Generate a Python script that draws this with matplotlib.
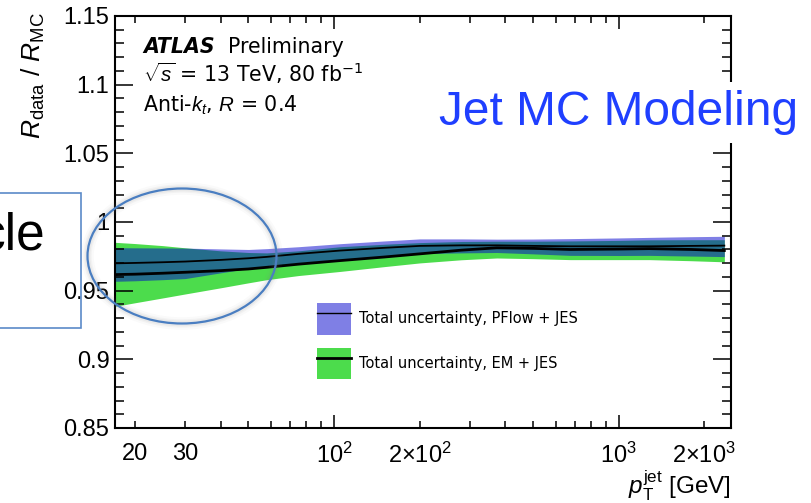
import numpy as np
import matplotlib
matplotlib.use("Agg")
import matplotlib.pyplot as plt
from matplotlib.patches import Ellipse, Rectangle, Patch
from matplotlib.lines import Line2D
from matplotlib.ticker import FixedLocator, FuncFormatter, MultipleLocator, LogLocator

plt.rcParams["font.family"] = ["Liberation Sans", "DejaVu Sans"]
plt.rcParams["mathtext.fontset"] = "custom"
plt.rcParams["mathtext.rm"] = "Liberation Sans"
plt.rcParams["mathtext.it"] = "Liberation Sans:italic"
plt.rcParams["mathtext.bf"] = "Liberation Sans:bold"

# jet pT points [GeV]
pt_jet = [17, 20, 25, 30, 40, 50, 58, 75, 105, 150, 200, 280, 373, 500, 675, 1000, 1280, 1800, 2350]

# PFlow + JES: central value and total uncertainty band
pflow_c = [0.9699, 0.9702, 0.9707, 0.9712, 0.9724, 0.9736, 0.9746, 0.9768, 0.9792, 0.9812,
           0.9826, 0.9830, 0.9830, 0.9826, 0.9823, 0.9823, 0.9823, 0.9826, 0.9828]
pflow_hi = [0.9813, 0.9812, 0.9811, 0.9810, 0.9804, 0.9800, 0.9806, 0.9820, 0.9842, 0.9862,
            0.9877, 0.9877, 0.9875, 0.9876, 0.9879, 0.9884, 0.9888, 0.9893, 0.9896]
pflow_lo = [0.9568, 0.9572, 0.9580, 0.9588, 0.9630, 0.9662, 0.9678, 0.9703, 0.9728, 0.9752,
            0.9770, 0.9775, 0.9778, 0.9768, 0.9757, 0.9756, 0.9757, 0.9752, 0.9748]

# EM + JES: central value and total uncertainty band
em_c = [0.9617, 0.9620, 0.9627, 0.9634, 0.9646, 0.9658, 0.9670, 0.9693, 0.9719, 0.9745,
        0.9768, 0.9795, 0.9812, 0.9808, 0.9800, 0.9803, 0.9806, 0.9800, 0.9792]
em_hi = [0.9852, 0.9843, 0.9828, 0.9812, 0.9790, 0.9778, 0.9775, 0.9790, 0.9820, 0.9838,
         0.9850, 0.9858, 0.9860, 0.9860, 0.9862, 0.9866, 0.9870, 0.9871, 0.9871]
em_lo = [0.9386, 0.9412, 0.9447, 0.9476, 0.9521, 0.9557, 0.9580, 0.9610, 0.9640, 0.9675,
         0.9702, 0.9725, 0.9738, 0.9733, 0.9726, 0.9726, 0.9726, 0.9718, 0.9710]

labeled_xticks = [20, 30, 100, 200, 1000, 2000]
legend_labels = ["Total uncertainty, PFlow + JES", "Total uncertainty, EM + JES"]

green = "#4cdc4c"
blue = (0, 0, 0.8)

W, H = 811, 503
fig = plt.figure(figsize=(W / 100, H / 100), dpi=100)
ax = fig.add_axes([115 / W, 1 - 428 / H, 616 / W, 412 / H])

ax.fill_between(pt_jet, em_lo, em_hi, color=green, lw=0)
ax.plot(pt_jet, em_c, color="k", lw=2.0)
ax.fill_between(pt_jet, pflow_lo, pflow_hi, color=blue, alpha=0.5, lw=0)
ax.plot(pt_jet, pflow_c, color="k", lw=1.3)

ax.set_xscale("log")
ax.set_xlim(17, 2480)
ax.set_ylim(0.85, 1.15)


def fmt_x(v, pos=None):
    if not any(abs(v - t) < 1e-6 * t for t in labeled_xticks):
        return ""
    if v < 100:
        return f"{v:g}"
    e = int(np.floor(np.log10(v) + 1e-9))
    m = int(round(v / 10 ** e))
    if m == 1:
        return rf"$\mathregular{{10^{{{e}}}}}$"
    return rf"$\mathregular{{{m}{{\times}}10^{{{e}}}}}$"


ax.xaxis.set_major_locator(FixedLocator([100, 1000]))
ax.xaxis.set_minor_locator(LogLocator(base=10, subs=range(2, 10)))
ax.xaxis.set_major_formatter(FuncFormatter(fmt_x))
ax.xaxis.set_minor_formatter(FuncFormatter(fmt_x))
ax.yaxis.set_major_locator(MultipleLocator(0.05))
ax.yaxis.set_minor_locator(MultipleLocator(0.01))
ax.yaxis.set_major_formatter(FuncFormatter(lambda v, p: f"{round(v, 2):g}"))

ax.tick_params(axis="both", which="both", direction="in", top=True, right=True, width=1.1)
ax.tick_params(axis="x", which="major", length=9.5, labelsize=17, pad=10.5)
ax.tick_params(axis="x", which="minor", length=5, labelsize=17, pad=10.5)
ax.tick_params(axis="y", which="major", length=13, labelsize=17, pad=4)
ax.tick_params(axis="y", which="minor", length=6.5)
for s in ax.spines.values():
    s.set_linewidth(1.5)

fig.text(33 / W, 1 - 12 / H, r"$R_{\mathrm{data}}$ / $R_{\mathrm{MC}}$", rotation=90,
         ha="center", va="top", fontsize=19)
fig.text(731 / W, 1 - 494 / H, r"$p_{\mathrm{T}}^{\mathrm{jet}}$ [GeV]", ha="right",
         va="baseline", fontsize=17.5)

fig.text(143 / W, 1 - 53 / H, "ATLAS", fontsize=14.8, fontweight="bold", fontstyle="italic",
         family="DejaVu Sans")
fig.text(228 / W, 1 - 53 / H, "Preliminary", fontsize=14.8, family="DejaVu Sans")
fig.text(143 / W, 1 - 82 / H, r"$\sqrt{s}$ = 13 TeV, 80 fb$^{\mathregular{-1}}$", fontsize=14.8,
         family="DejaVu Sans")
fig.text(143 / W, 1 - 112 / H, r"Anti-$k_{t}$, $R$ = 0.4", fontsize=14.8, family="DejaVu Sans")

handles = [(Patch(facecolor=blue, alpha=0.5, lw=0), Line2D([], [], color="k", lw=1.0)),
           (Patch(facecolor=green, lw=0), Line2D([], [], color="k", lw=2.0))]
ax.legend(handles, legend_labels, loc="upper left", bbox_to_anchor=((317 - 115) / 616, (428 - 303) / 412),
          frameon=False, prop={"family": "DejaVu Sans", "size": 10.5}, borderpad=0, borderaxespad=0,
          handlelength=2.35, handleheight=2.95, handletextpad=0.5, labelspacing=0.9)

# slide overlay annotations
for lw, a in [(9, 0.04), (6, 0.06), (4, 0.08)]:
    fig.add_artist(Ellipse((182 / W, 1 - 256 / H), 189 / W, 135 / H, transform=fig.transFigure,
                           fill=False, edgecolor="gray", lw=lw, alpha=a))
fig.add_artist(Ellipse((182 / W, 1 - 256 / H), 189 / W, 135 / H, transform=fig.transFigure,
                       fill=False, edgecolor="#4a7ec1", lw=1.6))
fig.add_artist(Rectangle((-10 / W, 1 - 328 / H), 91 / W, 135 / H, transform=fig.transFigure,
                         fill=False, edgecolor="#5b8ac8", lw=1.2))
fig.text(46 / W, 1 - 250 / H, "cle", ha="right", va="baseline", fontsize=37)
fig.text(439 / W, 1 - 125 / H, "Jet MC Modeling", ha="left", va="baseline", fontsize=34.5,
         color="#1f3fff", bbox=dict(facecolor="white", edgecolor="none", pad=6))

fig.savefig("out.png", dpi=100)
